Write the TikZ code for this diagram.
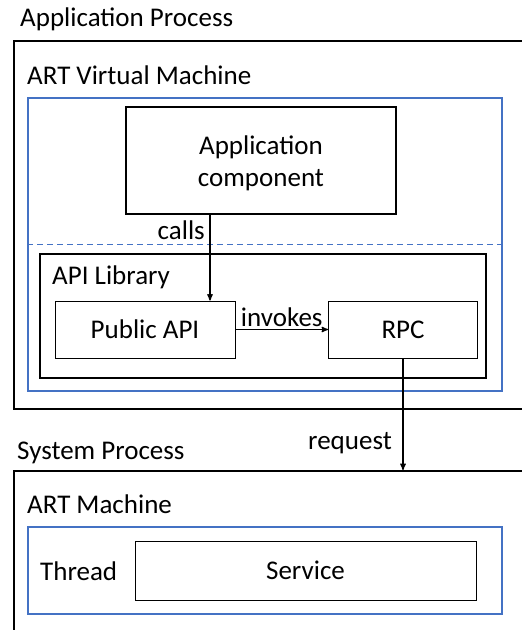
\documentclass[tikz,border=0pt]{standalone}
\usepackage{fontspec}
\setmainfont{Carlito}
\usetikzlibrary{arrows,positioning}

\definecolor{vmblue}{HTML}{4472C4}

\tikzset{
  process/.style={draw,line width=2pt,anchor=north west,inner sep=0pt},
  machine/.style={draw=vmblue,line width=2pt,inner sep=0pt},
  holder/.style={draw,line width=1.8pt,inner sep=0pt},
  part/.style={draw,line width=0.9pt,inner sep=0pt,align=center},
  caption/.style={anchor=west,inner sep=0pt},
  tag/.style={anchor=east,inner sep=0pt}
}

\begin{document}
\begin{tikzpicture}[x=1pt,y=-1pt,>=stealth',font=\fontsize{27}{32}\selectfont]

\useasboundingbox (0,0) rectangle (522,630);

% application side
\node[caption] (apptitle) at (20,19.5) {Application Process};
\node[process,minimum width=540pt,minimum height=368pt] (appproc) at (13,40) {};
\node[caption] (vmtitle) at (27,75.5) {ART Virtual Machine};
\node[machine,minimum width=474pt,minimum height=293pt] (vm) at (265,244.5) {};
\draw[vmblue,line width=1.3pt,dash pattern=on 6pt off 4pt] (vm.west) -- (vm.east);

\node[holder,minimum width=270pt,minimum height=107pt] (appcomp) at (261,160.5) {};
\node[align=center,inner sep=0pt] (appcomptext) at (261,163.5) {Application\\component};

\node[holder,minimum width=446pt,minimum height=124pt] (apilib) at (263,316) {};
\node[caption] (libtitle) at (52,277.5) {API Library};
\node[part,minimum width=180pt,minimum height=57pt] (pubapi) at (145,329.5) {Public API};
\node[part,minimum width=149pt,minimum height=57pt] (rpc) at (403,329.5) {RPC};

% system side
\node[caption] (systitle) at (17,452.5) {System Process};
\node[process,minimum width=540pt,minimum height=200pt] (sysproc) at (13,470) {};
\node[caption] (arttitle) at (27,504.5) {ART Machine};
\node[machine,minimum width=474pt,minimum height=87pt] (artm) at (265,570.5) {};
\node[caption] (thread) at (40,571) {Thread};
\node[part,minimum width=341pt,minimum height=59pt] (service) at (305.5,570.5) {Service};

% calls between the parts
\coordinate (callx) at (210,0);
\draw[->,line width=1.3pt] (appcomp.south -| callx) -- (pubapi.north -| callx);
\node[tag] (calls) at (205,230) {calls};
\draw[->,line width=1.3pt] (pubapi) -- node[above=-1pt] {invokes} (rpc);
\draw[->,line width=1.3pt] (rpc.south) -- (rpc.south |- sysproc.north);
\node[tag] (request) at (392,443) {request};

\end{tikzpicture}
\end{document}
